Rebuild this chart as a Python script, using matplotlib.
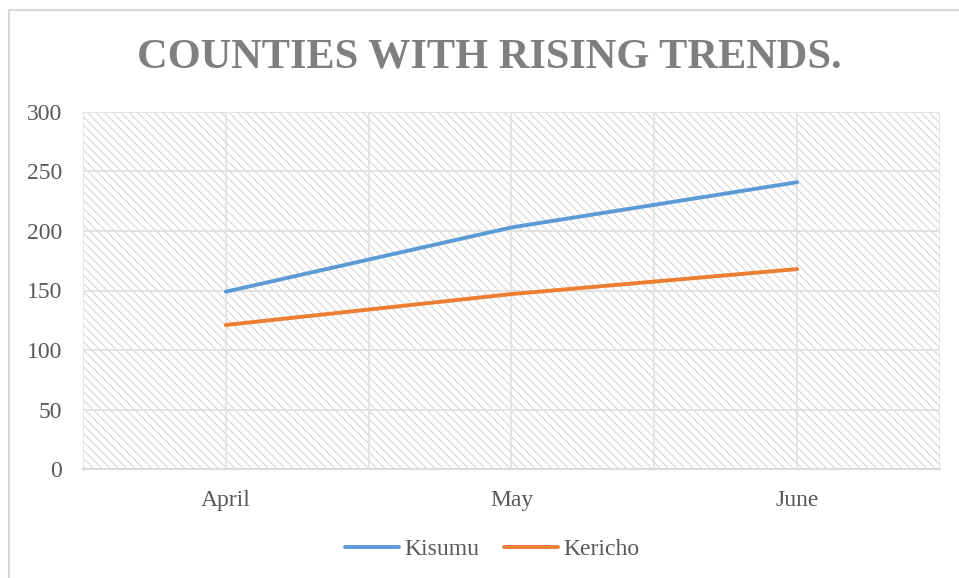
import matplotlib

matplotlib.use("Agg")
import matplotlib.pyplot as plt
from matplotlib.patches import Rectangle

months = ["April", "May", "June"]
kisumu = [149, 203, 241]
kericho = [121, 147, 168]
y_ticks = [0, 50, 100, 150, 200, 250, 300]

plt.rcParams["font.family"] = ["Liberation Serif", "DejaVu Serif"]
plt.rcParams["hatch.linewidth"] = 0.7
plt.rcParams["hatch.color"] = "#d2d2d2"

W, H = 959, 578
fig = plt.figure(figsize=(W / 100, H / 100), dpi=100)

# chart area border (cut off at right / bottom in the reference)
fig.patches.append(Rectangle((9 / W, -0.05), 1.1, 1 - 10 / H + 0.05, transform=fig.transFigure,
                             fill=False, edgecolor="#d9d9d9", linewidth=1.5, clip_on=False))

ax = fig.add_axes([83 / W, 1 - 469 / H, (940 - 83) / W, (469 - 112) / H])
x = list(range(len(months)))

ax.set_xlim(-0.5, len(months) - 0.5)
ax.set_ylim(0, 300)

# hatched plot area
ax.add_patch(Rectangle((0, 0), 1, 1, transform=ax.transAxes, facecolor="white",
                       edgecolor="#d2d2d2", hatch="\\\\\\\\", linewidth=0, zorder=0))

for yv in y_ticks[1:]:
    ax.axhline(yv, color="#dedede", linewidth=1.2, zorder=1)
for i in range(len(months) * 2 + 1):
    ax.axvline(-0.5 + i * 0.5, color="#e2e2e2", linewidth=1.2, zorder=1)

ax.plot(x, kisumu, color="#5B9BD5", linewidth=2.8, label="Kisumu", solid_capstyle="round", zorder=3)
ax.plot(x, kericho, color="#ED7D31", linewidth=2.8, label="Kericho", solid_capstyle="round", zorder=3)

ax.set_yticks(y_ticks)
ax.set_xticks(x)
ax.set_xticklabels(months)
ax.tick_params(axis="both", length=0, labelsize=17, labelcolor="#595959")
ax.tick_params(axis="y", pad=15)
ax.tick_params(axis="x", pad=15)

for side in ["top", "right", "left"]:
    ax.spines[side].set_visible(False)
ax.spines["bottom"].set_color("#d9d9d9")
ax.spines["bottom"].set_linewidth(1.5)

fig.text(489 / W, 1 - 58 / H, "COUNTIES WITH RISING TRENDS.", ha="center", va="center",
         fontsize=30.5, fontweight="bold", color="#7f7f7f")

fig.legend(loc="center", bbox_to_anchor=(492 / W, 1 - 549 / H), ncol=2, frameon=False,
           fontsize=17, labelcolor="#595959", handlelength=2.3, handletextpad=0.2,
           columnspacing=1.05)

fig.savefig("out.png", dpi=100)
